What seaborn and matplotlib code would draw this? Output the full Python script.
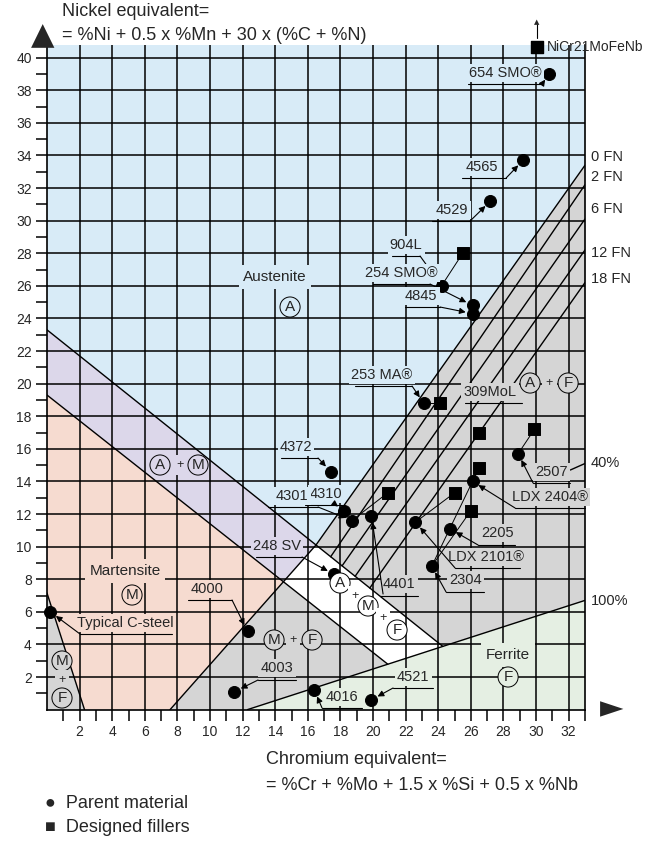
import numpy as np
import pandas as pd
import seaborn as sns
import matplotlib.pyplot as plt
from matplotlib.patches import Polygon

sns.set_theme(style="white")
plt.rcParams['font.family'] = ['Liberation Sans', 'DejaVu Sans']

# ---- data ----
names = ["654 SMO", "4565", "4529", "904L", "254 SMO", "4845", "253 MA", "4372", "4310", "4301",
         "4401", "248 SV", "2304", "LDX 2101", "2205", "LDX 2404", "2507", "4016", "4521", "4003",
         "4000", "C-steel"]
cr_eq = [30.8, 29.2, 27.2, 24.2, 26.1, 26.1, 23.1, 17.4, 18.2, 18.7,
         19.9, 17.6, 23.6, 22.6, 24.7, 26.1, 28.9, 16.4, 19.9, 11.5, 12.3, 0.2]
ni_eq = [39.0, 33.7, 31.2, 26.0, 24.8, 24.3, 18.8, 14.6, 12.2, 11.6,
         11.9, 8.3, 8.8, 11.5, 11.1, 14.0, 15.7, 1.2, 0.6, 1.1, 4.8, 6.0]
filler_cr = [25.5, 24.1, 20.9, 25.0, 26.0, 26.5, 26.5, 29.9]
filler_ni = [28.0, 18.8, 13.3, 13.3, 12.2, 14.8, 17.0, 17.2]
pairs = [(3, 0), (6, 1), (9, 2), (13, 3), (12, 4), (15, 5), (16, 7)]
extra_links = [((23.6, 8.8), (26.1, 14.0))]

am_upper = (23.3, -0.80)
am_lower = (19.3, -0.79)
mf_start = 7.55
ferr_line = ((12.3, 0.0), (33.0, 6.7))
left_line = ((0.0, 7.15), (2.3, 0.0))
fn_names = ["0 FN", "2 FN", "6 FN", "12 FN", "18 FN"]
fn_lower_x = [16.5, 17.4, 18.1, 18.9, 19.8]
fn_right_y = [33.4, 32.2, 30.1, 28.2, 26.2]

XMAX, YMAX = 33.0, 40.8
W, H = 654, 856
fig = plt.figure(figsize=(6.54, 8.56), dpi=100)
ax = fig.add_axes([47/W, 1-709.6/H, (585-47)/W, 665/H])
ax.set_xlim(0, XMAX); ax.set_ylim(0, YMAX)

def P(px, py):
    return ((px-47)/16.3, (709.6-py)/16.3)

def up(x): return am_upper[0] + am_upper[1]*x
def lo(x): return am_lower[0] + am_lower[1]*x
fs = (ferr_line[1][1]-ferr_line[0][1])/(ferr_line[1][0]-ferr_line[0][0])

x_ul = fn_lower_x[0]; y_ul = up(x_ul)
mfs = y_ul/(x_ul-mf_start)
x_ml = (am_lower[0]+mfs*mf_start)/(mfs-am_lower[1]); y_ml = lo(x_ml)
x_lf = (am_lower[0]+fs*12.3)/(fs-am_lower[1]); y_lf = lo(x_lf)
x_uf = (am_upper[0]+fs*12.3)/(fs-am_upper[1]); y_uf = up(x_uf)

blue, purple, pink, gray, green = "#d8ebf7", "#dcd7ea", "#f6dbd0", "#d5d5d5", "#e5efe3"
ax.set_facecolor(blue)
polys = [
    ([(0, am_upper[0]), (x_ul, y_ul), (x_ml, y_ml), (0, am_lower[0])], purple),
    ([(0, am_lower[0]), (x_ml, y_ml), (mf_start, 0), (2.3, 0), (0, 7.15)], pink),
    ([(0, 0), (0, 7.15), (2.3, 0)], gray),
    ([(mf_start, 0), (x_ml, y_ml), (x_lf, y_lf), (12.3, 0)], gray),
    ([(x_ml, y_ml), (x_ul, y_ul), (x_uf, y_uf), (x_lf, y_lf)], "white"),
    ([(x_ul, y_ul), (XMAX, fn_right_y[0]), (XMAX, 6.7), (x_uf, y_uf)], gray),
    ([(12.3, 0), (XMAX, 6.7), (XMAX, 0)], green),
]
for pts, c in polys:
    ax.add_patch(Polygon(pts, closed=True, facecolor=c, edgecolor="none", zorder=0))

for v in range(2, 33, 2):
    ax.axvline(v, color="black", lw=1.1, zorder=1)
for v in range(2, 41, 2):
    ax.axhline(v, color="black", lw=1.1, zorder=1)

lk = dict(color="black", lw=1.0, zorder=2)
ax.plot([0, x_uf], [up(0), y_uf], **lk)
ax.plot([0, x_lf], [lo(0), y_lf], **lk)
ax.plot([mf_start, x_ul], [0, y_ul], **lk)
ax.plot(*zip(*ferr_line), **lk)
ax.plot(*zip(*left_line), **lk)
for xl, yr in zip(fn_lower_x, fn_right_y):
    ax.plot([xl, XMAX], [up(xl), yr], **lk)
ax.plot([32.1, 33.0], [14.7, 15.1], **lk)

ax.spines["top"].set_visible(False)
for s in ["left", "bottom", "right"]:
    ax.spines[s].set_color("black"); ax.spines[s].set_linewidth(1.2)
ax.set_xticks(range(2, 33, 2)); ax.set_yticks(range(2, 41, 2))
ax.set_xticks(range(1, 34), minor=True); ax.set_yticks(range(1, 41), minor=True)
ax.tick_params(which="both", direction="out", length=8, width=1.1, color="black",
               labelsize=10, bottom=True, left=True, pad=3)

for pi, fi in pairs:
    ax.plot([cr_eq[pi], filler_cr[fi]], [ni_eq[pi], filler_ni[fi]], color="black", lw=0.7, zorder=3)
for a, b in extra_links:
    ax.plot([a[0], b[0]], [a[1], b[1]], color="black", lw=0.7, zorder=3)
dfp = pd.DataFrame({"cr": cr_eq, "ni": ni_eq})
dff = pd.DataFrame({"cr": filler_cr, "ni": filler_ni})
sns.scatterplot(data=dfp, x="cr", y="ni", ax=ax, color="black", s=75, marker="o",
                edgecolor="black", zorder=5, clip_on=False)
sns.scatterplot(data=dff, x="cr", y="ni", ax=ax, color="black", s=75, marker="s",
                edgecolor="black", zorder=5, clip_on=False)
ax.scatter([P(537, 47)[0]], [P(537, 47)[1]], marker="s", s=75, color="black", clip_on=False, zorder=5)
ax.set_xlabel(""); ax.set_ylabel("")

labels = [
    ("654 SMO®", (505, 73), (468, 542, 84), (542, 84), 0, blue),
    ("4565", (482, 167), (462, 506, 178), (506, 178), 1, blue),
    ("4529", (452, 210), (432, 470, 221), (470, 221), 2, blue),
    ("904L", (406, 245), (392, 420, 256), (420, 256), 3, blue),
    ("254 SMO®", (401, 273), (373, 430, 284), (430, 284), 4, blue),
    ("4845", (421, 296), (405, 440, 307), (440, 307), 5, blue),
    ("253 MA®", (382, 375), (355, 412, 386), (412, 386), 6, blue),
    ("4372", (296, 447), (281, 318, 458), (318, 458), 7, blue),
    ("4310", (326, 494), (305, 342, 505), (336, 505), 8, blue),
    ("4301", (292, 496), (268, 318, 507), (318, 507), 9, blue),
    ("4401", (399, 584), (380, 418, 596), (383, 594), 10, gray),
    ("248 SV", (277, 546), (256, 302, 557), (302, 557), 11, purple),
    ("2304", (465, 580), (446, 484, 592), (446, 592), 12, gray),
    ("LDX 2101®", (486, 557), (455, 520, 568), (455, 568), 13, gray),
    ("2205", (497, 533), (478, 515, 545), (478, 545), 14, gray),
    ("LDX 2404®", (550, 497), (515, 585, 508), (515, 508), 15, gray),
    ("2507", (551, 472), (533, 570, 483), (533, 483), 16, gray),
    ("4016", (342, 697), (322, 362, 708), (322, 708), 17, green),
    ("4521", (413, 677), (393, 433, 688), (393, 688), 18, green),
    ("4003", (277, 668), (258, 296, 680), (258, 680), 19, gray),
    ("4000", (207, 589), (188, 232, 600), (232, 600), 20, pink),
    ("Typical C-steel", (125, 623), (80, 172, 634), (80, 634), 21, pink),
]
for txt, tp, ul, st, ti, fc in labels:
    tx, ty = P(*tp)
    ax.text(tx, ty, txt, ha="center", va="center", fontsize=10.5, zorder=6,
            bbox=dict(boxstyle="square,pad=0.15", fc=fc, ec="none"))
    a = P(ul[0], ul[2]); b = P(ul[1], ul[2])
    ax.plot([a[0], b[0]], [a[1], b[1]], color="black", lw=0.8, zorder=6, clip_on=False)
    ax.annotate("", xy=(cr_eq[ti], ni_eq[ti]), xytext=P(*st),
                arrowprops=dict(arrowstyle="-|>", color="black", lw=0.8, shrinkA=0, shrinkB=5,
                                mutation_scale=9), zorder=6)
ax.text(*P(490, 392), "309MoL", ha="center", va="center", fontsize=10.5, zorder=6,
        bbox=dict(boxstyle="square,pad=0.15", fc=gray, ec="none"))
a = P(465, 403); b = P(522, 403)
ax.plot([a[0], b[0]], [a[1], b[1]], color="black", lw=0.8, zorder=6)

def circ(px, py, t, fc):
    x, y = P(px, py)
    ax.text(x, y, t, ha="center", va="center", fontsize=11, zorder=6,
            bbox=dict(boxstyle="circle,pad=0.2", fc=fc, ec="black", lw=0.7))
def plain(px, py, t, fc, rot=0, fsz=11):
    x, y = P(px, py)
    ax.text(x, y, t, ha="center", va="center", fontsize=fsz, zorder=6, rotation=rot,
            bbox=dict(boxstyle="square,pad=0.3", fc=fc, ec="none"))
plain(275, 277, "Austenite", blue); circ(290, 307, "A", blue)
circ(160, 465, "A", purple); plain(180, 465, "+", purple, fsz=9); circ(198, 465, "M", purple)
plain(125, 571, "Martensite", pink); circ(132, 595, "M", pink)
circ(274, 640, "M", gray); plain(293, 640, "+", gray, fsz=9); circ(312, 640, "F", gray)
circ(340, 583, "A", "white"); plain(355, 596, "+", "white", fsz=9); circ(368, 606, "M", "white")
plain(383, 618, "+", "white", fsz=9); circ(397, 630, "F", "white")
circ(530, 383, "A", gray); plain(549, 383, "+", gray, fsz=9); circ(568, 383, "F", gray)
plain(508, 655, "Ferrite", green); circ(508, 677, "F", green)
circ(62, 661, "M", gray); plain(62, 680, "+", gray, fsz=9); circ(62, 698, "F", gray)

for t, py in zip(fn_names + ["40%", "100%"], [157, 177, 209, 253, 279, 463, 601]):
    fig.text(591/W, 1-py/H, t, ha="left", va="center", fontsize=10.5)
fig.text(547/W, 1-47/H, "NiCr21MoFeNb", ha="left", va="center", fontsize=10)
fig.add_artist(plt.Line2D([537/W, 537/W], [1-38/H, 1-24/H], color="black", lw=0.8))
fig.text(537/W, 1-22/H, "▲", ha="center", va="center", fontsize=5, family=['DejaVu Sans'])

fig.text(43/W, 1-36/H, "▲", ha="center", va="center", fontsize=22, family=['DejaVu Sans'])
fig.text(612/W, 1-709/H, "►", ha="center", va="center", fontsize=22, family=['DejaVu Sans'])

fig.text(62/W, 1-11/H, "Nickel equivalent=", ha="left", va="center", fontsize=13)
fig.text(62/W, 1-35/H, "= %Ni + 0.5 x %Mn + 30 x (%C + %N)", ha="left", va="center", fontsize=13)
fig.text(266/W, 1-760/H, "Chromium equivalent=", ha="left", va="center", fontsize=13)
fig.text(266/W, 1-785/H, "= %Cr + %Mo + 1.5 x %Si + 0.5 x %Nb", ha="left", va="center", fontsize=13)
fig.text(45/W, 1-804/H, "●  Parent material", ha="left", va="center", fontsize=13,
         family=['Liberation Sans', 'DejaVu Sans'])
fig.text(45/W, 1-828/H, "■  Designed fillers", ha="left", va="center", fontsize=13,
         family=['Liberation Sans', 'DejaVu Sans'])

fig.savefig("out.png", dpi=100)
